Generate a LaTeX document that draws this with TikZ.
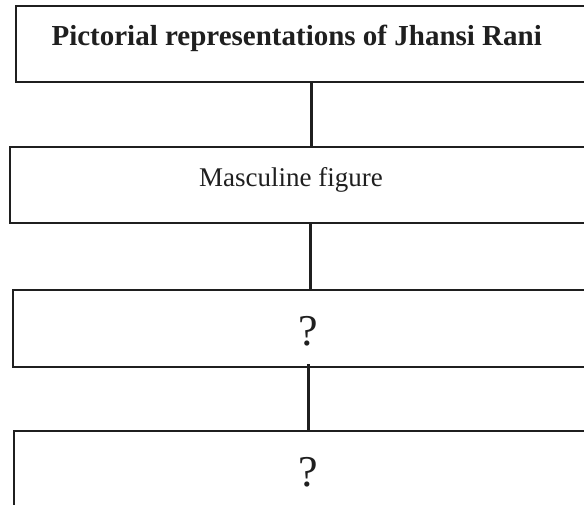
\documentclass[tikz,border=0pt]{standalone}
\usepackage{fontspec}
\setmainfont{Liberation Serif}
\usetikzlibrary{positioning,calc}

\begin{document}
\begin{tikzpicture}[
    x=1pt, y=-1pt,
    box/.style={rectangle, draw=black!88, line width=2.4pt, anchor=north west, minimum width=640pt, inner sep=0pt},
    link/.style={draw=black!88, line width=3pt},
    label/.style={anchor=base, inner sep=0pt, text=black!88}
]
    % Frame
    \useasboundingbox (0,0) rectangle (584,505);
    \clip (0,0) rectangle (584,505);

    % Boxes
    \node[box, minimum height=76pt] (top) at (15,5) {};
    \node[box, minimum height=76pt] (masc) at (9,146) {};
    \node[box, minimum height=77pt] (qa) at (12,289) {};
    \node[box, minimum height=110pt] (qb) at (13,430) {};

    % Texts
    \node[label, font=\fontsize{29}{32}\selectfont\bfseries] (toptext) at (296.7,46) {Pictorial representations of Jhansi Rani};
    \node[label, font=\fontsize{27}{30}\selectfont] (masctext) at (291,187) {Masculine figure};
    \node[label, font=\fontsize{44}{48}\selectfont] (qatext) at (308,345) {?};
    \node[label, font=\fontsize{44}{48}\selectfont] (qbtext) at (308,486) {?};

    % Connectors
    \coordinate (j1) at (311,0);
    \coordinate (j2) at (310,0);
    \coordinate (j3) at (308,0);
    \draw[link] (top.south -| j1) -- (masc.north -| j1);
    \draw[link] (masc.south -| j2) -- (qa.north -| j2);
    \draw[link] ($(qa.south -| j3)+(0,-4)$) -- (qb.north -| j3);

\end{tikzpicture}
\end{document}
